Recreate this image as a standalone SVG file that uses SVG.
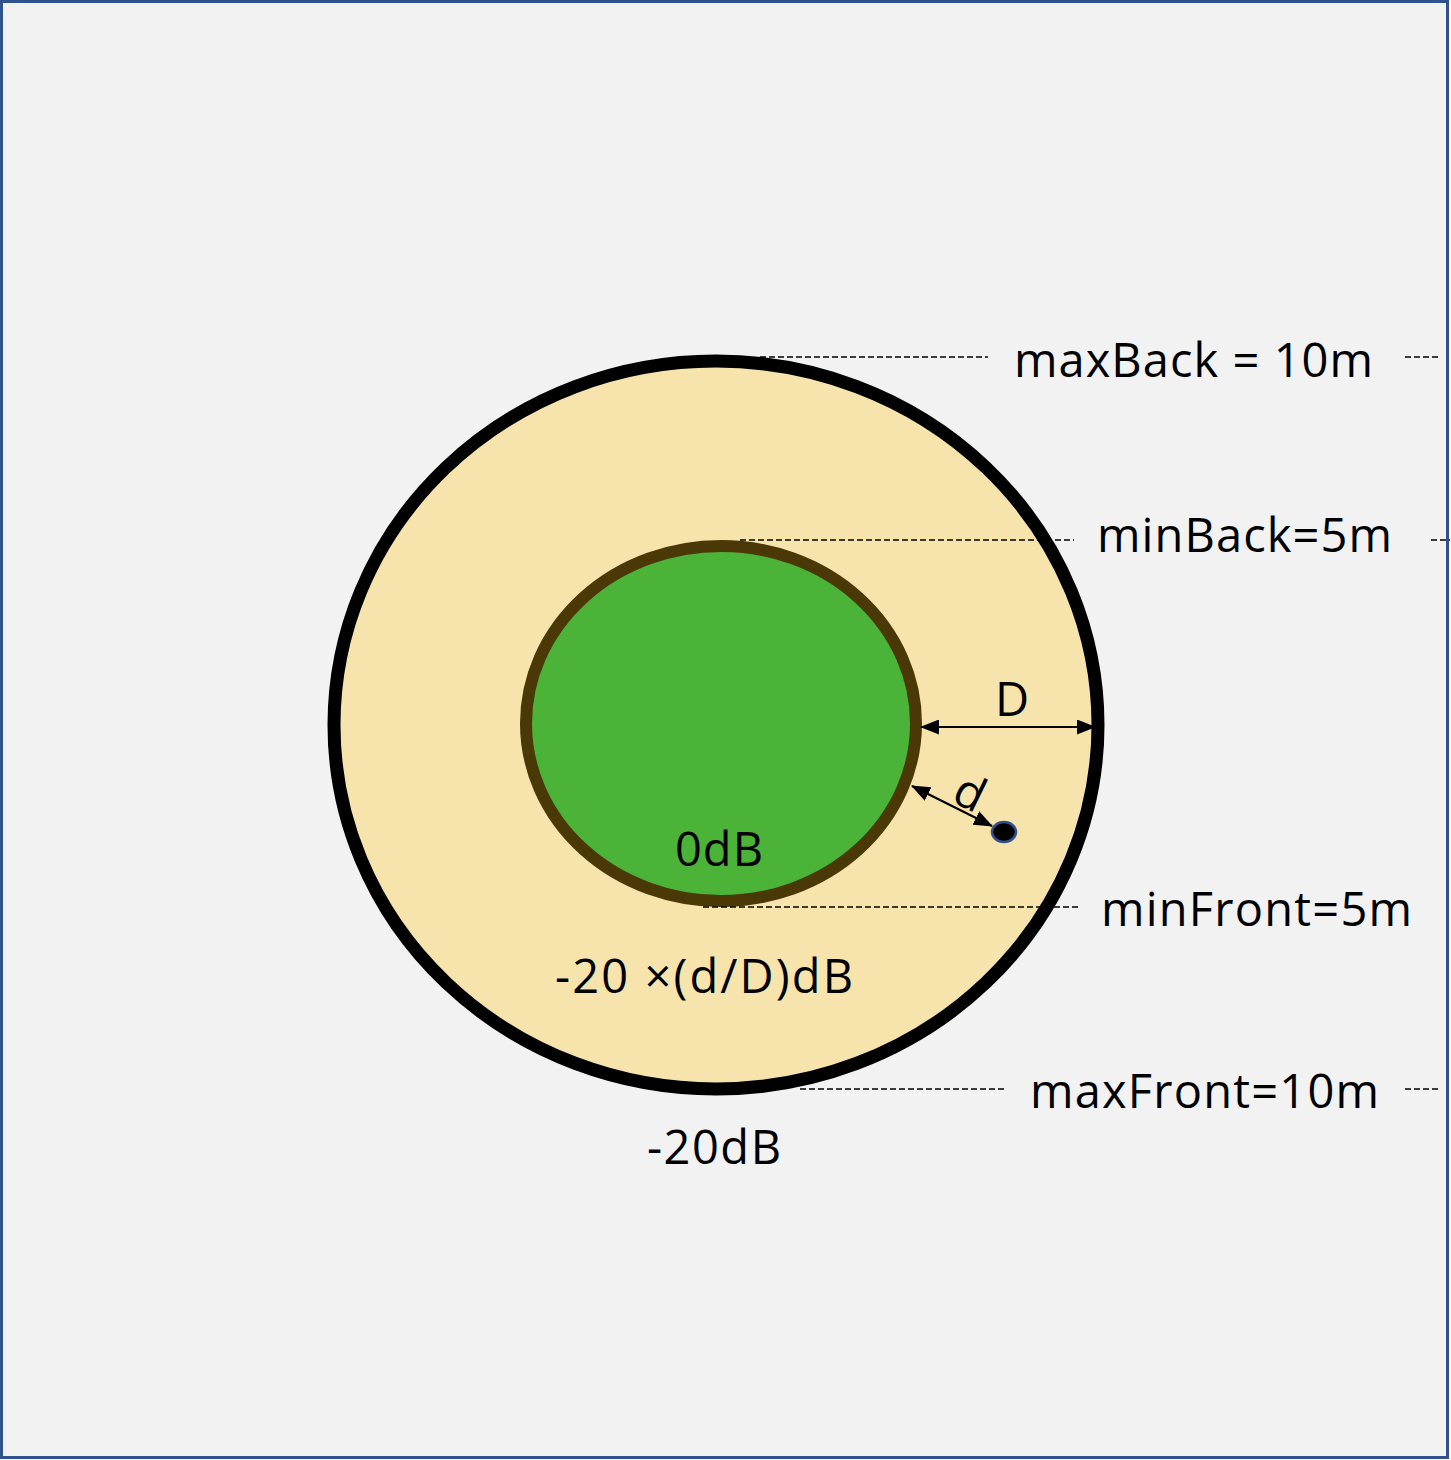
<svg xmlns="http://www.w3.org/2000/svg" width="1451" height="1460" viewBox="0 0 1451 1460">
<style>
.lbl{font-family:"Open Sans","Liberation Sans",sans-serif;font-size:47px;fill:#000}
.dash{stroke:#000;stroke-width:1.6;stroke-dasharray:6 3;fill:none}
.arr{stroke:#000;stroke-width:2.2;fill:none}
</style>
<defs>
<marker id="ah" markerUnits="userSpaceOnUse" markerWidth="19" markerHeight="15" refX="18" refY="7.5" orient="auto-start-reverse">
<path d="M0,0 L19,7.5 L0,15 Z" fill="#000"/>
</marker>
</defs>
<rect id="frame" x="1.5" y="1.5" width="1446" height="1456" fill="#F2F2F2" stroke="#2F528F" stroke-width="3"/>
<g id="outer">
<ellipse cx="716" cy="725" rx="382" ry="364" fill="#F7E4AD" stroke="#000" stroke-width="13"/>
</g>
<g id="inner">
<ellipse cx="721" cy="723.5" rx="195" ry="177.5" fill="#4BB337" stroke="#4A3906" stroke-width="12"/>
</g>
<g id="point">
<ellipse cx="1004" cy="832" rx="12" ry="10" fill="#000" stroke="#2F528F" stroke-width="2.5"/>
</g>
<g id="connectors">
<line class="dash" x1="760" y1="357" x2="988" y2="357"/>
<line class="dash" x1="1405" y1="357" x2="1438" y2="357"/>
<line class="dash" x1="740" y1="540" x2="1074" y2="540"/>
<line class="dash" x1="1431" y1="540" x2="1450" y2="540"/>
<line class="dash" x1="703" y1="907" x2="1078" y2="907"/>
<line class="dash" x1="800" y1="1089" x2="1005" y2="1089"/>
<line class="dash" x1="1405" y1="1089" x2="1440" y2="1089"/>
<line class="arr" x1="921" y1="727" x2="1095" y2="727" marker-start="url(#ah)" marker-end="url(#ah)"/>
<line class="arr" x1="912" y1="786" x2="992" y2="826" marker-start="url(#ah)" marker-end="url(#ah)"/>
</g>
<g id="labels">
<text class="lbl" x="1014" y="377" textLength="359">maxBack = 10m</text>
<text class="lbl" x="1097" y="552" textLength="295">minBack=5m</text>
<text class="lbl" x="1101" y="926" textLength="311">minFront=5m</text>
<text class="lbl" x="1030" y="1108" textLength="349">maxFront=10m</text>
<text class="lbl" x="555" y="993" textLength="298">-20 ×(d/D)dB</text>
<text class="lbl" x="647" y="1164" textLength="134">-20dB</text>
<text class="lbl" x="675" y="866" textLength="88">0dB</text>
<text class="lbl" x="995" y="716">D</text>
<text class="lbl" x="0" y="0" transform="translate(950,801) rotate(26)">d</text>
</g>
</svg>
